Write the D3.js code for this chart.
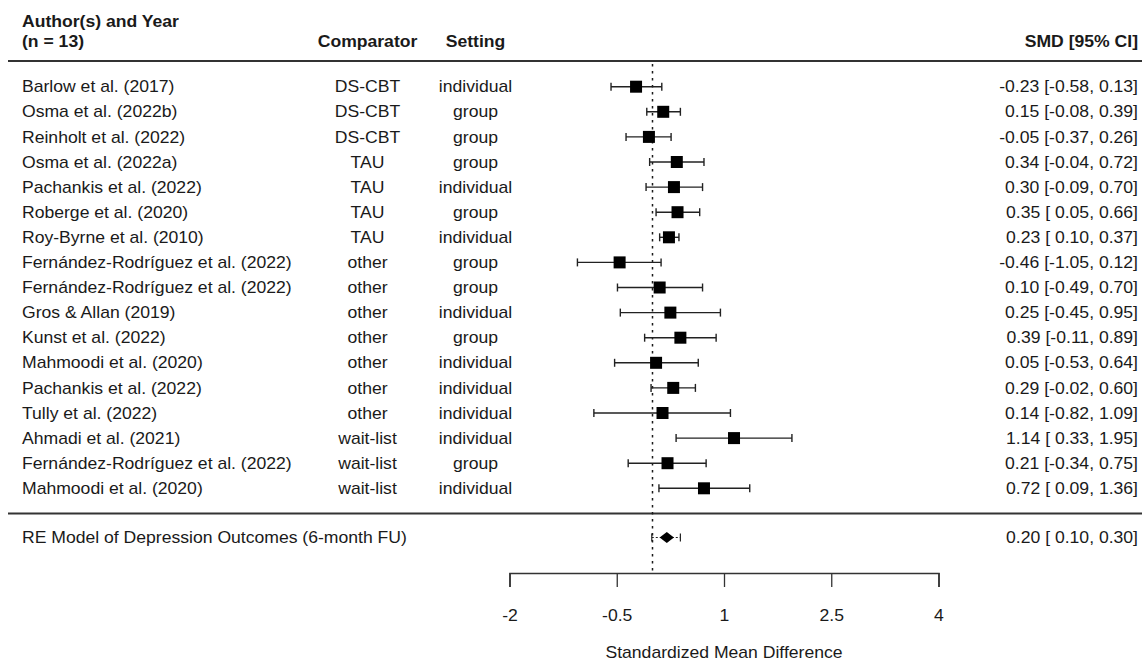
<!DOCTYPE html>
<html>
<head>
<meta charset="utf-8">
<script src="https://cdn.jsdelivr.net/npm/d3@7"></script>
<style>
  html, body { margin: 0; padding: 0; background: #fff; }
  svg { display: block; font-family: "Liberation Sans", Arial, sans-serif; }
</style>
</head>
<body>
<svg id="chart" width="1142" height="664"></svg>
<script>
// Study-level data
const authors = [
  "Barlow et al. (2017)", "Osma et al. (2022b)", "Reinholt et al. (2022)",
  "Osma et al. (2022a)", "Pachankis et al. (2022)", "Roberge et al. (2020)",
  "Roy-Byrne et al. (2010)", "Fernández-Rodríguez et al. (2022)",
  "Fernández-Rodríguez et al. (2022)", "Gros & Allan (2019)", "Kunst et al. (2022)",
  "Mahmoodi et al. (2020)", "Pachankis et al. (2022)", "Tully et al. (2022)",
  "Ahmadi et al. (2021)", "Fernández-Rodríguez et al. (2022)", "Mahmoodi et al. (2020)"
];
const comparators = [
  "DS-CBT", "DS-CBT", "DS-CBT", "TAU", "TAU", "TAU", "TAU",
  "other", "other", "other", "other", "other", "other", "other",
  "wait-list", "wait-list", "wait-list"
];
const settings = [
  "individual", "group", "group", "group", "individual", "group", "individual",
  "group", "group", "individual", "group", "individual", "individual", "individual",
  "individual", "group", "individual"
];
const smd   = [-0.23, 0.15, -0.05, 0.34, 0.30, 0.35, 0.23, -0.46, 0.10, 0.25, 0.39, 0.05, 0.29, 0.14, 1.14, 0.21, 0.72];
const lower = [-0.58, -0.08, -0.37, -0.04, -0.09, 0.05, 0.10, -1.05, -0.49, -0.45, -0.11, -0.53, -0.02, -0.82, 0.33, -0.34, 0.09];
const upper = [0.13, 0.39, 0.26, 0.72, 0.70, 0.66, 0.37, 0.12, 0.70, 0.95, 0.89, 0.64, 0.60, 1.09, 1.95, 0.75, 1.36];

// Pooled random-effects estimate and prediction interval
const pooledLabel = "RE Model of Depression Outcomes (6-month FU)";
const pooled = { est: 0.20, lower: 0.10, upper: 0.30 };
const predInterval = [-0.01, 0.39];

// Axis ticks
const tickValues = [-2, -0.5, 1, 2.5, 4];
const axisTitle = "Standardized Mean Difference";

const headers = {
  author: ["Author(s) and Year", "(n = 13)"],
  comparator: "Comparator",
  setting: "Setting",
  smd: "SMD [95% CI]"
};

// ---- layout ----
const W = 1142, H = 664;
const FS = 16;          // font size
const SX = 1.1;         // horizontal text stretch
const ink = "#1a1a1a";

const svg = d3.select("#chart");

const x = d3.scaleLinear().domain([-2, 4]).range([509.5, 938.5]);
const rowY = d3.scaleLinear().domain([0, authors.length - 1]).range([86.7, 488.3]);
const pooledY = 537.5;
const axisY = 573;

const colAuthor = 22, colComp = 367.5, colSetting = 475.5, colSMD = 1138;

function label(g, txt, px, py, anchor, bold) {
  return g.append("text")
    .attr("transform", `translate(${px},${py}) scale(${SX},1)`)
    .attr("dy", "0.35em")
    .attr("text-anchor", anchor)
    .attr("font-size", FS)
    .attr("font-weight", bold ? "bold" : "normal")
    .attr("fill", ink)
    .text(txt);
}

function fmtCI(e, l, u) {
  const pad = v => (v < 0 ? "" : " ") + v.toFixed(2);
  return `${e.toFixed(2)} [${pad(l)}, ${u.toFixed(2)}]`;
}

// headers
const gh = svg.append("g");
label(gh, headers.author[0], colAuthor, 21.6, "start", true);
label(gh, headers.author[1], colAuthor, 41.7, "start", true);
label(gh, headers.comparator, colComp, 41.7, "middle", true);
label(gh, headers.setting, colSetting, 41.7, "middle", true);
label(gh, headers.smd, colSMD, 41.7, "end", true);

// separator lines
svg.append("line").attr("x1", 8).attr("x2", W).attr("y1", 61).attr("y2", 61)
  .attr("stroke", "#333").attr("stroke-width", 2);
svg.append("line").attr("x1", 8).attr("x2", W).attr("y1", 513.5).attr("y2", 513.5)
  .attr("stroke", "#333").attr("stroke-width", 2);

// reference line at zero
svg.append("line")
  .attr("x1", x(0)).attr("x2", x(0)).attr("y1", 64).attr("y2", axisY)
  .attr("stroke", ink).attr("stroke-width", 1.5)
  .attr("stroke-dasharray", "2.5,4.5");

// study rows
const rows = svg.append("g").selectAll("g.row")
  .data(authors.map((a, i) => ({ a, i })))
  .join("g").attr("class", "row");

rows.each(function(d) {
  const g = d3.select(this);
  const i = d.i, yy = rowY(i);
  label(g, authors[i], colAuthor, yy, "start", false);
  label(g, comparators[i], colComp, yy, "middle", false);
  label(g, settings[i], colSetting, yy, "middle", false);
  label(g, fmtCI(smd[i], lower[i], upper[i]), colSMD, yy, "end", false);

  g.append("line").attr("x1", x(lower[i])).attr("x2", x(upper[i]))
    .attr("y1", yy).attr("y2", yy).attr("stroke", "#222").attr("stroke-width", 1.4);
  [lower[i], upper[i]].forEach(v => {
    g.append("line").attr("x1", x(v)).attr("x2", x(v))
      .attr("y1", yy - 4).attr("y2", yy + 4).attr("stroke", "#222").attr("stroke-width", 1.4);
  });
  const s = 12;
  g.append("rect").attr("x", x(smd[i]) - s / 2).attr("y", yy - s / 2)
    .attr("width", s).attr("height", s).attr("fill", "#000");
});

// pooled estimate
const gp = svg.append("g");
label(gp, pooledLabel, colAuthor, pooledY, "start", false);
label(gp, fmtCI(pooled.est, pooled.lower, pooled.upper), colSMD, pooledY, "end", false);
gp.append("line").attr("x1", x(predInterval[0])).attr("x2", x(predInterval[1]))
  .attr("y1", pooledY).attr("y2", pooledY)
  .attr("stroke", "#222").attr("stroke-width", 1.2).attr("stroke-dasharray", "2,2");
predInterval.forEach(v => {
  gp.append("line").attr("x1", x(v)).attr("x2", x(v))
    .attr("y1", pooledY - 4).attr("y2", pooledY + 4).attr("stroke", "#222").attr("stroke-width", 1.2);
});
gp.append("path")
  .attr("d", `M${x(pooled.lower)},${pooledY} L${x(pooled.est)},${pooledY - 5.5} L${x(pooled.upper)},${pooledY} L${x(pooled.est)},${pooledY + 5.5} Z`)
  .attr("fill", "#000");

// x axis
const axis = d3.axisBottom(x).tickValues(tickValues).tickSize(14).tickSizeOuter(14)
  .tickFormat(d => String(d));
const ga = svg.append("g").attr("transform", `translate(0,${axisY})`).call(axis);
ga.select(".domain").attr("stroke", "#333").attr("stroke-width", 1.6);
ga.selectAll(".tick line").attr("stroke", "#333").attr("stroke-width", 1.3);
ga.selectAll(".tick text")
  .attr("y", 0).attr("dy", "0.35em")
  .attr("transform", `translate(0,${615 - axisY}) scale(${SX},1)`)
  .attr("font-size", FS).attr("font-family", "Liberation Sans, Arial, sans-serif")
  .attr("fill", ink);

label(svg, axisTitle, x(1), 652, "middle", false);
</script>
</body>
</html>
